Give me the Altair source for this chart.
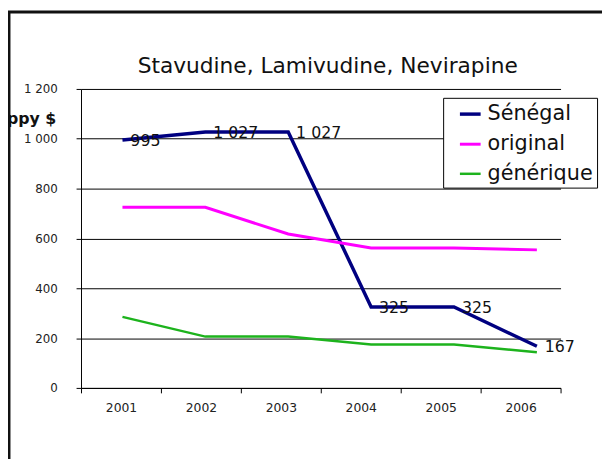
import altair as alt
import pandas as pd

years = ["2001", "2002", "2003", "2004", "2005", "2006"]
senegal = [995, 1027, 1027, 325, 325, 167]
original = [725, 725, 618, 562, 562, 554]
generique = [285, 206, 206, 174, 174, 143]
series_names = ["Sénégal", "original", "générique"]
series_colors = ["#000080", "#FF00FF", "#1DB31D"]
y_ticks = [0, 200, 400, 600, 800, 1000, 1200]
title_text = "Stavudine, Lamivudine, Nevirapine"
y_title = "ppy $"

rows = []
for name, vals in zip(series_names, [senegal, original, generique]):
    for yr, v in zip(years, vals):
        rows.append({"year": yr, "value": v, "serie": name,
                     "label": f"{v:,}".replace(",", " ")})
df = pd.DataFrame(rows)
df_sen = df[df["serie"] == "Sénégal"]
one = pd.DataFrame({"k": [0]})

FONT = "DejaVu Sans"
W, H = 486, 303

y_enc = alt.Y("value:Q",
              scale=alt.Scale(domain=[0, 1200], nice=False),
              axis=alt.Axis(values=y_ticks, title=None, grid=True,
                            gridColor="#000000", gridWidth=1,
                            tickSize=5, tickColor="#000000",
                            domainColor="#000000", labelPadding=19,
                            labelFont=FONT, labelFontSize=12, labelColor="#222222",
                            labelExpr="replace(format(datum.value, ','), ',', ' ')"))

axis_layer = alt.Chart(df).mark_point(opacity=0).encode(
    x=alt.X("year:O", scale=alt.Scale(type="band", paddingInner=0, paddingOuter=0),
            axis=alt.Axis(title=None, labelAngle=0, tickBand="extent", tickSize=5,
                          tickColor="#000000", domainColor="#000000", labelPadding=9,
                          labelFont=FONT, labelFontSize=12.5, labelColor="#222222",
                          grid=False)),
    y=y_enc,
)

x_pt = alt.X("year:O", scale=alt.Scale(type="point", range=[42, 462], padding=0), axis=None)

lines = alt.Chart(df).mark_line(strokeJoin="miter").encode(
    x=x_pt,
    y=y_enc,
    color=alt.Color("serie:N", sort=series_names,
                    scale=alt.Scale(domain=series_names, range=series_colors),
                    legend=alt.Legend(title=None)),
    strokeWidth=alt.StrokeWidth("serie:N", scale=alt.Scale(domain=series_names, range=[3.5, 2.5, 2.5]),
                                legend=None),
    detail="serie:N",
)

labels = alt.Chart(df_sen).mark_text(align="left", baseline="middle", dx=8, dy=1,
                                     font=FONT, fontSize=16, color="#111111").encode(
    x=x_pt,
    y=y_enc,
    text="label:N",
)

title = alt.Chart(one).mark_text(align="center", baseline="alphabetic", font=FONT,
                                 fontSize=22, color="#111111").encode(
    x=alt.value(250), y=alt.value(-16), text=alt.value(title_text))

ytitle = alt.Chart(one).mark_text(align="left", baseline="alphabetic", font=FONT,
                                  fontSize=16, fontWeight="bold", color="#111111").encode(
    x=alt.value(-75), y=alt.value(36), text=alt.value(y_title))

border_left = alt.Chart(one).mark_rule(color="#111111", strokeWidth=3).encode(
    x=alt.value(-73), y=alt.value(-79), y2=alt.value(400))
border_top = alt.Chart(one).mark_rule(color="#111111", strokeWidth=3).encode(
    y=alt.value(-78), x=alt.value(-74), x2=alt.value(560))

chart = alt.layer(axis_layer, lines, labels, title, ytitle, border_left, border_top).resolve_scale(
    x="independent"
).properties(
    width=W, height=H,
    autosize=alt.AutoSizeParams(type="none"),
    padding={"left": 74, "top": 79, "right": 42, "bottom": 69},
).configure_view(stroke=None).configure_legend(
    orient="none", legendX=367, legendY=9,
    strokeColor="#000000", fillColor="#FFFFFF", strokeWidth=1,
    padding=4, cornerRadius=0,
    labelFont=FONT, labelFontSize=21, labelColor="#111111", labelOffset=5,
    symbolType="stroke", symbolSize=441, symbolStrokeWidth=2, symbolOffset=11,
    rowPadding=8, labelLimit=300,
)

chart.save("out.html", embed_options={"renderer": "svg", "actions": False})
